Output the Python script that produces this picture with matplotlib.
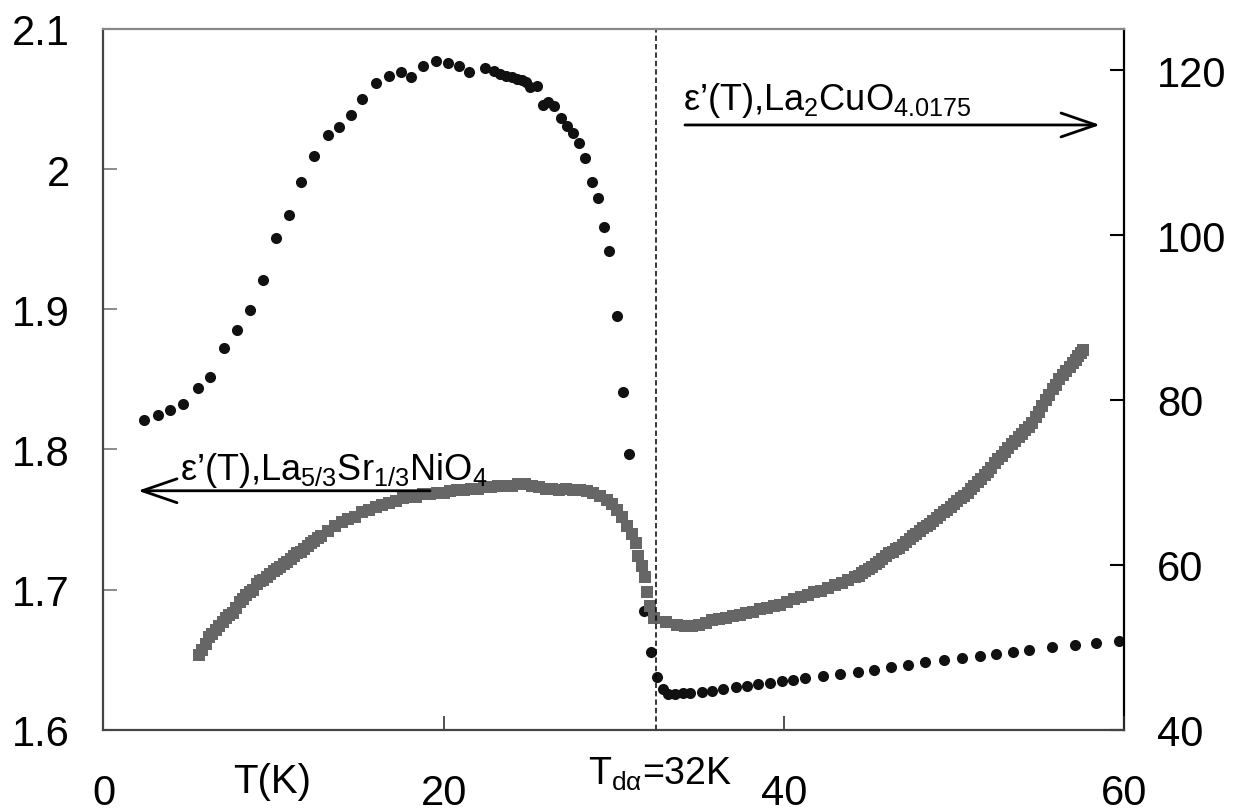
"""Dielectric constant vs temperature for two nickelate / cuprate samples."""

import matplotlib
matplotlib.use("Agg")
import matplotlib.pyplot as plt

plt.rcParams["font.family"] = ["Liberation Sans", "DejaVu Sans"]
plt.rcParams["mathtext.fontset"] = "custom"
plt.rcParams["mathtext.rm"] = "Liberation Sans"
plt.rcParams["mathtext.it"] = "Liberation Sans:italic"

# La5/3Sr1/3NiO4 (left axis, grey squares)
nio_t = [
    5.6, 5.8, 6.0, 6.2, 6.4, 6.6, 6.8, 7.0, 7.2, 7.4, 7.6, 7.8, 8.0, 8.2,
    8.4, 8.6, 8.8, 9.0, 9.2, 9.4, 9.6, 9.8, 10.0, 10.2, 10.4, 10.6, 10.8,
    11.0, 11.2, 11.4, 11.6, 11.8, 12.0, 12.2, 12.4, 12.6, 12.8,
    13.2, 13.6, 14.0, 14.4, 14.8, 15.2, 15.6, 16.0, 16.4, 16.8, 17.2, 17.6,
    18.0, 18.4, 18.8, 19.2, 19.6, 20.0, 20.4, 20.8, 21.2, 21.6, 22.0, 22.4,
    22.8, 23.2, 23.6, 24.0, 24.4, 24.8, 25.2, 25.6, 26.0, 26.4, 26.8, 27.2,
    27.6, 28.0, 28.4, 28.8, 29.2, 29.6, 29.9, 30.2, 30.5, 30.8, 31.1, 31.3,
    31.4, 31.65, 31.85, 31.95, 32.15, 32.35,
    33.1, 33.7, 34.2, 34.6, 35.0, 35.4, 35.8, 36.2, 36.6, 37.0, 37.4, 37.8,
    38.2, 38.6, 39.0, 39.4, 39.8, 40.2, 40.6, 41.0, 41.4, 41.8, 42.2, 42.6,
    43.0, 43.4, 43.8, 44.2,
    44.4, 44.6, 44.8, 45.0, 45.2, 45.4, 45.6, 45.8, 46.0, 46.2, 46.4, 46.6,
    46.8, 47.0, 47.2, 47.4, 47.6, 47.8, 48.0, 48.2, 48.4, 48.6, 48.8, 49.0,
    49.2, 49.4, 49.6, 49.8, 50.0, 50.2, 50.4, 50.6, 50.8, 51.0, 51.2, 51.4,
    51.6, 51.8, 52.0, 52.2, 52.4, 52.6, 52.8, 53.0, 53.2, 53.4, 53.6, 53.8,
    54.0, 54.2, 54.4, 54.6, 54.8, 55.0, 55.2, 55.4, 55.6, 55.8, 56.0, 56.2,
    56.4, 56.6, 56.8, 57.0, 57.15, 57.3, 57.45, 57.6,
]
nio_eps = [
    1.653, 1.657, 1.661, 1.666, 1.668, 1.671, 1.674, 1.677, 1.680, 1.682,
    1.683, 1.687, 1.691, 1.693, 1.696, 1.698, 1.700, 1.704, 1.706, 1.707,
    1.709, 1.711, 1.713, 1.715, 1.716, 1.718, 1.720, 1.722, 1.724, 1.726,
    1.727, 1.729, 1.731, 1.733, 1.735, 1.737, 1.738,
    1.742, 1.745, 1.748, 1.750, 1.752, 1.755, 1.757, 1.759, 1.760, 1.762,
    1.763, 1.765, 1.766, 1.766, 1.768, 1.768, 1.769, 1.769, 1.770, 1.771,
    1.771, 1.772, 1.772, 1.773, 1.773, 1.774, 1.774, 1.774, 1.775, 1.775,
    1.774, 1.773, 1.772, 1.772, 1.771, 1.772, 1.771, 1.771, 1.770, 1.769,
    1.767, 1.764, 1.761, 1.757, 1.752, 1.745, 1.740, 1.733, 1.724, 1.717,
    1.709, 1.698, 1.688, 1.680,
    1.677, 1.675, 1.674, 1.674, 1.675, 1.676, 1.678, 1.679, 1.680, 1.681,
    1.682, 1.683, 1.684, 1.686, 1.687, 1.688, 1.689, 1.691, 1.693, 1.695,
    1.696, 1.698, 1.699, 1.701, 1.703, 1.705, 1.707, 1.709,
    1.710, 1.712, 1.713, 1.715, 1.716, 1.718, 1.720, 1.722, 1.724, 1.726,
    1.727, 1.729, 1.730, 1.732, 1.734, 1.736, 1.738, 1.740, 1.742, 1.744,
    1.745, 1.747, 1.749, 1.751, 1.753, 1.755, 1.757, 1.759, 1.761, 1.763,
    1.765, 1.767, 1.769, 1.772, 1.774, 1.777, 1.779, 1.782, 1.784, 1.787,
    1.790, 1.793, 1.795, 1.798, 1.801, 1.804, 1.806, 1.809, 1.811, 1.814,
    1.816, 1.819, 1.823, 1.827, 1.831, 1.835, 1.839, 1.843, 1.846, 1.850,
    1.853, 1.856, 1.859, 1.862, 1.864, 1.867, 1.869, 1.871,
]

# La2CuO4.0175 (right axis, black dots)
cuo_t = [
    2.38, 3.19, 3.91, 4.66, 5.54, 6.26, 7.09, 7.85, 8.61, 9.40, 10.16, 10.89,
    11.61, 12.39, 13.22, 13.86, 14.55, 15.20, 16.02, 16.79, 17.47, 18.08,
    18.80, 19.53, 20.27, 20.92, 21.51, 22.43, 22.98, 23.31, 23.66, 24.00,
    24.29, 24.59, 24.84, 25.08, 25.47, 25.86, 26.15, 26.51, 26.90, 27.23,
    27.59, 27.96, 28.31, 28.70, 29.09, 29.45, 29.74, 30.17, 30.56, 30.88,
    31.78, 32.19, 32.53, 32.91, 33.21, 33.60, 34.05, 34.48, 35.17, 35.79,
    36.44, 37.17, 37.82, 38.50, 39.19, 39.88, 40.56, 41.25, 42.29, 43.30,
    44.38, 45.30, 46.30, 47.28, 48.30, 49.44, 50.49, 51.53, 52.46, 53.46,
    54.43, 55.77, 57.12, 58.34, 59.69,
]
cuo_eps = [
    77.57, 78.18, 78.82, 79.48, 81.42, 82.79, 86.31, 88.49, 90.92, 94.56,
    99.62, 102.45, 106.49, 109.57, 112.19, 113.16, 114.61, 116.48, 118.50,
    119.31, 119.83, 119.22, 120.56, 121.17, 120.89, 120.49, 119.76, 120.24,
    119.95, 119.55, 119.35, 119.15, 118.94, 118.82, 118.62, 117.94, 118.06,
    115.79, 116.12, 115.71, 114.21, 113.21, 112.39, 111.14, 109.36, 106.49,
    104.51, 100.95, 98.04, 90.23, 80.93, 73.41, 54.36, 49.39, 46.36, 44.94,
    44.33, 44.33, 44.42, 44.45, 44.61, 44.73, 44.94, 45.22, 45.34, 45.54,
    45.67, 45.87, 46.07, 46.24, 46.48, 46.76, 47.04, 47.28, 47.57, 47.89,
    48.18, 48.49, 48.74, 48.98, 49.22, 49.46, 49.71, 50.00, 50.28, 50.52,
    50.76,
]

x_ticks = [0, 20, 40, 60]
left_ticks = [1.6, 1.7, 1.8, 1.9, 2.0, 2.1]
left_labels = ["1.6", "1.7", "1.8", "1.9", "2", "2.1"]
right_ticks = [40, 60, 80, 100, 120]
t_transition = 32.5

FS = 30

fig = plt.figure(figsize=(12.33, 8.12), dpi=100)
ax = fig.add_axes([0.0839, 0.1001, 0.8277, 0.8630])
ax2 = ax.twinx()

ax.set_zorder(ax2.get_zorder() + 1)
ax.patch.set_visible(False)

ax2.plot(cuo_t, cuo_eps, "o", color="#111111", markersize=8, markeredgewidth=0,
         clip_on=False)
ax.plot(nio_t, nio_eps, "s", color="#666666", markersize=8.3, markeredgewidth=0)

ax.set_xlim(0, 60)
ax.set_ylim(1.6, 2.1)
ax2.set_ylim(40, 125)

ax.axvline(t_transition, color="black", lw=1.1, dashes=(3.5, 2.0))

ax.set_xticks(x_ticks)
ax.set_xticklabels([str(t) for t in x_ticks])
ax.set_yticks(left_ticks)
ax.set_yticklabels(left_labels)
ax2.set_yticks(right_ticks)
ax2.set_yticklabels([str(t) for t in right_ticks])

ax.tick_params(axis="x", direction="in", length=10, width=1.2, color="#333333",
               labelsize=FS, pad=31, top=False)
ax.tick_params(axis="y", direction="in", length=10, width=1.2, color="#777777",
               labelsize=FS, pad=24)
ax2.tick_params(axis="y", direction="in", length=10, width=1.5, color="black",
                labelsize=FS, pad=24)

for side, col in [("left", "#444444"), ("bottom", "#444444"), ("top", "#888888")]:
    ax.spines[side].set_color(col)
    ax.spines[side].set_linewidth(1.6)
ax.spines["right"].set_visible(False)
ax2.spines["right"].set_color("black")
ax2.spines["right"].set_linewidth(1.6)
for side in ["left", "top", "bottom"]:
    ax2.spines[side].set_visible(False)

arrow = dict(arrowstyle="->,head_length=1.25,head_width=0.43", mutation_scale=20,
             lw=2, color="black", shrinkA=0, shrinkB=0)

# left-pointing arrow for the nickelate
ax.annotate("", xy=(2.03, 1.7705), xytext=(19.2, 1.7705), arrowprops=arrow)
ax.text(4.5, 1.7792, "ε’(T),La$_{5/3}$Sr$_{1/3}$NiO$_4$", fontsize=26,
        ha="left", va="baseline")

# right-pointing arrow for the cuprate
ax.annotate("", xy=(58.59, 2.0315), xytext=(34.19, 2.0315), arrowprops=arrow)
ax.text(34.07, 2.0429, "ε’(T),La$_2$CuO$_{4.0175}$", fontsize=26,
        ha="left", va="baseline")

ax.text(7.61, 1.5555, "T(K)", fontsize=29, ha="left", va="baseline", clip_on=False)
ax.text(28.49, 1.5613, r"T$_{\mathrm{dα}}$=32K", fontsize=27, ha="left",
        va="baseline", clip_on=False)

fig.savefig("out.png", dpi=100)
